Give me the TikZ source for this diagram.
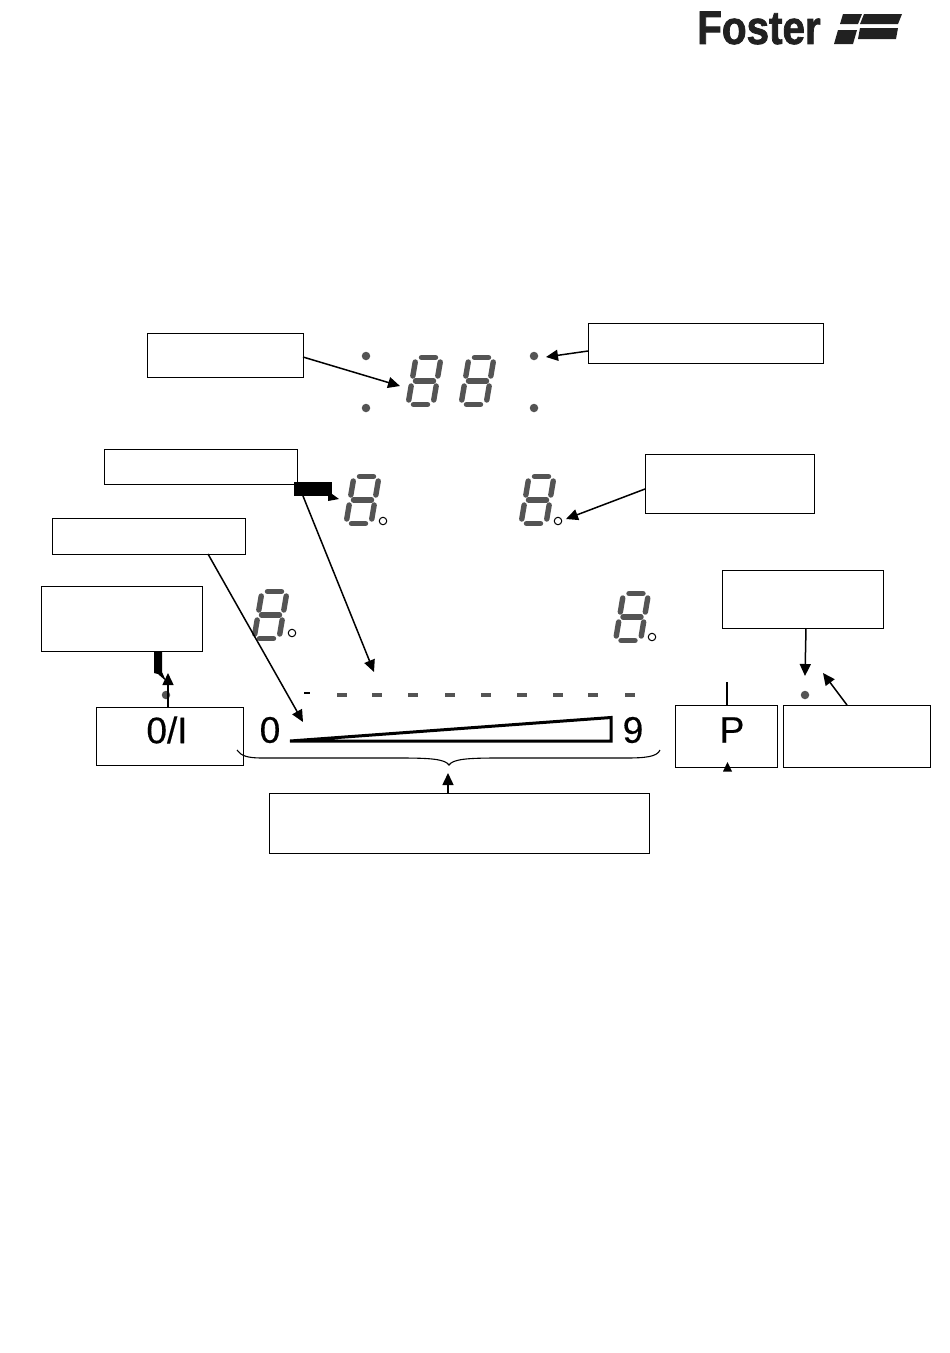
\documentclass[tikz,border=0pt]{standalone}
\usepackage{fontspec}
\setmainfont{Liberation Sans}
\newfontfamily\brandfont[FakeBold=1.8]{Liberation Sans Bold}
\newfontfamily\keyfont[FakeBold=0.4]{Liberation Sans}
\usetikzlibrary{arrows.meta}
\definecolor{seg}{gray}{0.33}
\definecolor{logo}{gray}{0.13}
\tikzset{
  x=1pt,y=-1pt,
  box/.style={draw=black,line width=1pt,fill=white,inner sep=0pt,anchor=north west},
  big/.style={font=\fontsize{37}{37}\keyfont,inner sep=0pt},
  conn/.style={draw=black,line width=1.5pt,-{Triangle[length=12pt,width=11pt]}},
  ledseg/.style={line width=5.4pt,draw=seg,line cap=round},
  leddot/.style={circle,fill=seg,inner sep=0pt,minimum size=8.5pt},
  ledring/.style={circle,draw=black,line width=1pt,inner sep=0pt,minimum size=7.5pt},
  dashmark/.style={fill=seg,inner sep=0pt,minimum width=10pt,minimum height=4pt},
  solidblack/.style={fill=black,draw=none},
  logopart/.style={fill=logo,draw=none}
}
\newcommand{\ledbox}[5]{\node[box,minimum width=#3pt,minimum height=#4pt] (#5) at (#1,#2) {};}
\newcommand{\digit}[2]{%
  \begin{scope}[shift={(#1,#2)},cm={1,0,0.17,1,(0,0)}]
    \draw[ledseg] (-7,-23.5) -- (7,-23.5) (-9,0) -- (9,0) (-7,23.5) -- (7,23.5);
    \draw[ledseg] (-12.5,-19) -- (-12.5,-5) (12.5,-19) -- (12.5,-5) (-12.5,5) -- (-12.5,19) (12.5,5) -- (12.5,19);
  \end{scope}}
\begin{document}
\begin{tikzpicture}
\useasboundingbox[fill=white] (0,0) rectangle (950,1353);
% logo
\node[inner sep=0pt,anchor=west,font=\fontsize{47}{47}\brandfont,text=logo] (brand) at (697,28) {\scalebox{.86}[1]{Foster}};
\fill[logopart] (843,14) -- (862,14) -- (858,24) -- (840,24) -- cycle;
\fill[logopart] (864,14) -- (902,14) -- (898,24) -- (860,24) -- cycle;
\fill[logopart] (838,30) -- (857,30) -- (853,44) -- (834,44) -- cycle;
\fill[logopart] (860,28) -- (898,28) -- (896,39) -- (858,39) -- cycle;
% boxes
\ledbox{147}{333}{156}{44}{a}
\ledbox{588}{323}{235}{40}{b}
\ledbox{104}{449}{193}{35}{c}
\ledbox{645}{454}{169}{59}{d}
\ledbox{52}{518}{193}{36}{e}
\ledbox{41}{586}{161}{65}{f}
\ledbox{722}{570}{161}{58}{g}
\ledbox{96}{707}{147}{58}{onoff}
\ledbox{675}{705}{102}{62}{pbox}
\ledbox{783}{705}{147}{62}{j}
\ledbox{269}{793}{380}{60}{k}
\node[big] (onofft) at (167,730) {0/I};
\node[big] (pt) at (732,730) {P};
\node[big] (zero) at (270,730) {0};
\node[big] (nine) at (633,730) {9};
% digits
\digit{424.5}{381}
\digit{477.5}{381}
\digit{362.5}{500}
\digit{537.5}{500}
\digit{270.5}{615}
\digit{632}{617}
% dots
\node[leddot] (d1) at (366,356) {};
\node[leddot] (d2) at (366,408) {};
\node[leddot] (d3) at (534,356) {};
\node[leddot] (d4) at (534,408) {};
\node[leddot] (d5) at (166,695) {};
\node[leddot] (d6) at (805,695) {};
\node[ledring] (r1) at (383,521) {};
\node[ledring] (r2) at (558,521) {};
\node[ledring] (r3) at (292,633) {};
\node[ledring] (r4) at (652,637) {};
% dashes
\node[dashmark,minimum width=6pt,minimum height=1.8pt,fill=black] (m0) at (307,693) {};
\foreach \n/\xx in {1/342,2/377,3/413,4/450,5/486,6/522,7/558,8/593,9/630}
  \node[dashmark] (m\n) at (\xx,695) {};
% wedge
\draw[line width=3pt,line join=miter] (290,741) -- (611,741) -- (611,717.5) -- cycle;
% brace
\draw[line width=1.1pt] (237,750) .. controls (241,756) and (248,758) .. (262,758) -- (400,758) .. controls (430,758) and (445,759) .. (449,765) .. controls (453,759) and (468,758) .. (498,758) -- (625,758) .. controls (645,758) and (657,757) .. (660,750);
% free ends
\coordinate (adigit) at (400,386);
\coordinate (cbar) at (303,496);
\coordinate (cend) at (374,672);
\coordinate (eend) at (303,722);
\coordinate (gend) at (805,676);
\coordinate (jend) at (823,673);
\coordinate (fend) at (168,673);
\coordinate (kend) at (448,773);
\coordinate (pend) at (727,682);
\coordinate (dend) at (566,519);
\coordinate (bend) at (546,357);
% connectors
\draw[conn] (303,357) -- (adigit);
\draw[conn] (588,351) -- (bend);
\draw[conn] (645,489) -- (dend);
\draw[conn] (cbar) -- (cend);
\draw[conn] (208,554) -- (eend);
\draw[conn] (806,628) -- (gend);
\draw[conn] (847,705) -- (jend);
\draw[conn] (168,707) -- (fend);
\draw[conn] (448,793) -- (kend);
\draw[line width=1.1pt] (727,705) -- (pend);
% thick bits
\fill[solidblack] (294,482) rectangle (332,496);
\fill[solidblack] (328,491) -- (339,499) -- (328,501) -- cycle;
\fill[solidblack] (154,652) -- (162,652) -- (162,672) -- (166,681) -- (158,674) -- (154,673) -- cycle;
\fill[solidblack] (727.5,762) -- (732,771.5) -- (723,771.5) -- cycle;
\end{tikzpicture}
\end{document}
